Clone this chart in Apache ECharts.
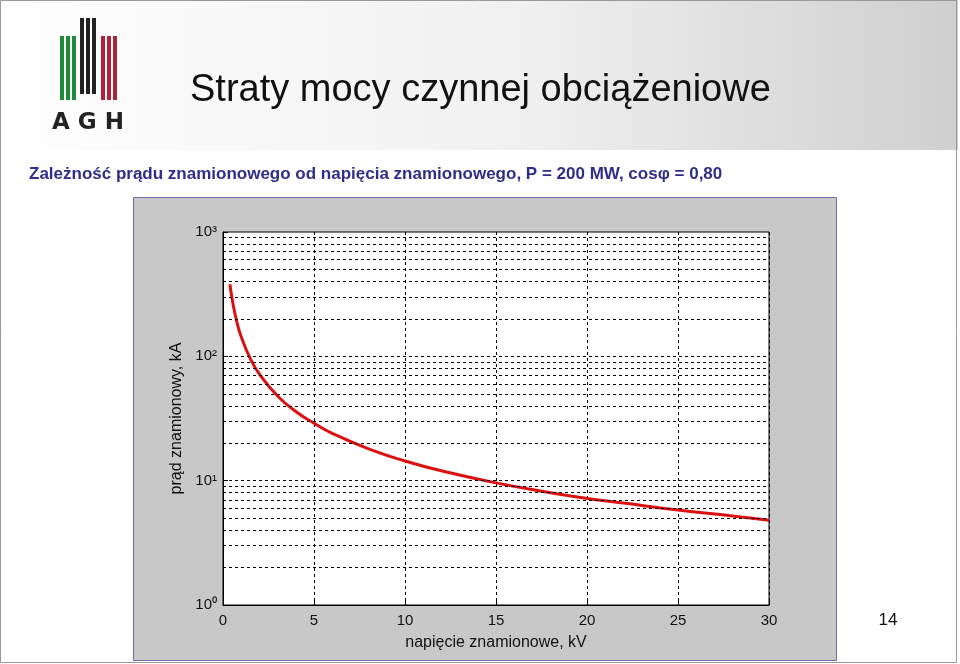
<!DOCTYPE html>
<html lang="pl">
<head>
  <meta charset="UTF-8">
  <title>Straty mocy</title>
  <style>html,body{margin:0;padding:0;background:#fff;}</style>
</head>
<body>
  <div id="main" style="width:960px;height:664px;"></div>
  <script src="https://cdn.jsdelivr.net/npm/echarts@6/dist/echarts.min.js"></script>
  <script type="text/javascript">
    // napiecie znamionowe, kV (odczyt z wykresu)
    var napiecie = [0.38, 0.5, 0.75, 1, 1.5, 2, 3, 4, 5, 6, 8, 10, 12, 15, 18, 20, 22, 25, 28, 30];
    // prad znamionowy, kA
    var prad = [380, 290, 192, 144, 96, 72, 48, 36, 29, 24, 18, 14.4, 12, 9.6, 8, 7.2, 6.6, 5.8, 5.2, 4.8];
    var xTicks = [0, 5, 10, 15, 20, 25, 30];
    var decades = [1, 10, 100];
    var minorMult = [2, 3, 4, 5, 6, 7, 8, 9];

    var myChart = echarts.init(document.getElementById('main'));

    var gridValues = [];
    decades.forEach(function (d) {
      minorMult.forEach(function (m) { gridValues.push({ yAxis: d * m }); });
    });
    gridValues.push({ yAxis: 10 }, { yAxis: 100 });

    var supMap = { 0: '⁰', 1: '¹', 2: '²', 3: '³' };

    var option = {
      animation: false,
      graphic: [
        { type: 'rect', shape: { x: 0, y: 0, width: 958, height: 150 }, style: {
          fill: new echarts.graphic.LinearGradient(0, 0, 1, 0, [
            { offset: 0, color: '#ffffff' }, { offset: 0.55, color: '#f0f0f0' }, { offset: 1, color: '#cfcfcf' }]) }, z: -10 },
        { type: 'rect', shape: { x: 0.5, y: 0.5, width: 956, height: 662 }, style: { fill: 'none', stroke: '#999', lineWidth: 1 }, z: 10 },
        // logo AGH
        { type: 'group', children: [
          { type: 'rect', shape: { x: 60, y: 36, width: 4, height: 64 }, style: { fill: '#1e8a3c' } },
          { type: 'rect', shape: { x: 66, y: 36, width: 4, height: 64 }, style: { fill: '#1e8a3c' } },
          { type: 'rect', shape: { x: 72, y: 36, width: 4, height: 64 }, style: { fill: '#1e8a3c' } },
          { type: 'rect', shape: { x: 80, y: 18, width: 4, height: 76 }, style: { fill: '#222' } },
          { type: 'rect', shape: { x: 86, y: 18, width: 4, height: 76 }, style: { fill: '#222' } },
          { type: 'rect', shape: { x: 92, y: 18, width: 4, height: 76 }, style: { fill: '#222' } },
          { type: 'rect', shape: { x: 101, y: 36, width: 4, height: 64 }, style: { fill: '#b0213a' } },
          { type: 'rect', shape: { x: 107, y: 36, width: 4, height: 64 }, style: { fill: '#b0213a' } },
          { type: 'rect', shape: { x: 113, y: 36, width: 4, height: 64 }, style: { fill: '#b0213a' } },
          { type: 'text', style: { x: 88, y: 123, text: 'A G H', fill: '#222', font: 'bold 23px "DejaVu Sans"', align: 'center', verticalAlign: 'middle' } }
        ] },
        { type: 'text', style: { x: 190, y: 91, text: 'Straty mocy czynnej obciążeniowe', fill: '#111',
          font: '38px "Liberation Sans"', verticalAlign: 'middle', shadowColor: 'rgba(0,0,0,0.35)', shadowOffsetX: 2, shadowOffsetY: 2, shadowBlur: 2 } },
        { type: 'text', style: { x: 29, y: 174, text: 'Zależność prądu znamionowego od napięcia znamionowego, P = 200 MW, cosφ = 0,80',
          fill: '#2e2e8a', font: 'bold 17px "Liberation Sans"', verticalAlign: 'middle' } },
        { type: 'rect', shape: { x: 133.5, y: 197.5, width: 703, height: 463 }, style: { fill: '#c8c8c8', stroke: '#7070a8', lineWidth: 1 }, z: -5 },
        { type: 'text', style: { x: 888, y: 620, text: '14', fill: '#111', font: '17px "Liberation Sans"', align: 'center', verticalAlign: 'middle' } }
      ],
      grid: { left: 223, top: 232, width: 546, height: 373, show: true, backgroundColor: '#fff', borderColor: '#000', borderWidth: 1 },
      xAxis: {
        type: 'value', min: 0, max: 30, interval: 5,
        name: 'napięcie znamionowe, kV', nameLocation: 'middle', nameGap: 30,
        nameTextStyle: { fontSize: 16, color: '#111', fontFamily: 'Liberation Sans' },
        axisLine: { lineStyle: { color: '#000' } },
        axisTick: { inside: true, length: 5, lineStyle: { color: '#000' } },
        axisLabel: { fontSize: 15, color: '#111', fontFamily: 'Liberation Sans', margin: 8 },
        splitLine: { show: true, lineStyle: { color: '#000', type: [3, 3], width: 1 } }
      },
      yAxis: {
        type: 'log', logBase: 10, min: 1, max: 1000,
        name: 'prąd znamionowy, kA', nameLocation: 'middle', nameGap: 4,
        nameTextStyle: { fontSize: 16, color: '#111', fontFamily: 'Liberation Sans' },
        axisLine: { lineStyle: { color: '#000' } },
        axisTick: { inside: true, length: 5, lineStyle: { color: '#000' } },
        axisLabel: { fontSize: 15, color: '#111', fontFamily: 'Liberation Sans', margin: 6,
          formatter: function (v) { return '10' + supMap[Math.round(Math.log10(v))]; } },
        splitLine: { show: false }
      },
      series: [
        {
          type: 'line', data: napiecie.map(function (u, i) { return [u, prad[i]]; }),
          smooth: true, showSymbol: false, lineStyle: { color: '#dd1010', width: 3 },
          markLine: {
            silent: true, symbol: 'none', label: { show: false },
            lineStyle: { color: '#000', type: [3, 3], width: 1 },
            data: gridValues
          }
        }
      ]
    };
    myChart.setOption(option);
  </script>
</body>
</html>
